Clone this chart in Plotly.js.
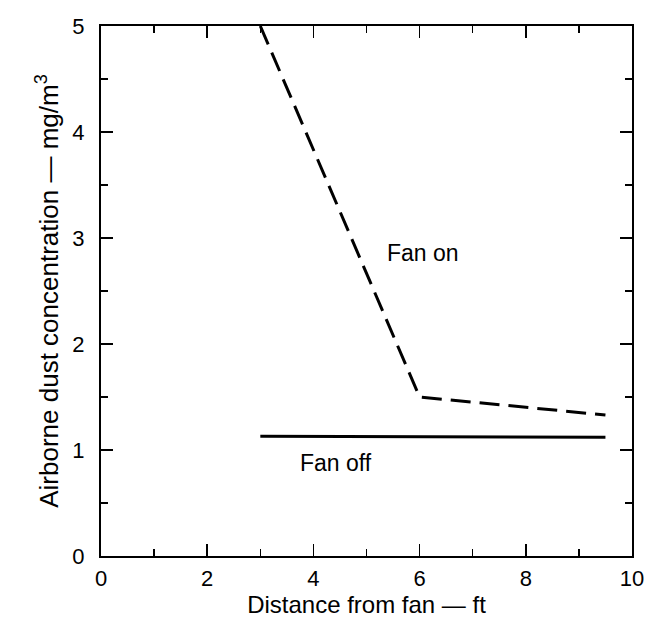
<!DOCTYPE html>
<html>
<head>
<meta charset="utf-8">
<script src="https://cdn.plot.ly/plotly-3.0.1.min.js"></script>
<style>html,body{margin:0;padding:0;background:#fff;}#chart{width:648px;height:624px;}</style>
</head>
<body>
<div id="chart"></div>
<script>
// Data
const fanOnX = [3.0, 6.0, 9.5];
const fanOnY = [5.0, 1.5, 1.33];
const fanOffX = [3.0, 9.5];
const fanOffY = [1.13, 1.12];
const xTickVals = [0, 2, 4, 6, 8, 10];
const yTickVals = [0, 1, 2, 3, 4, 5];
const labelFanOn = {x: 6.06, y: 2.86, text: 'Fan on'};
const labelFanOff = {x: 4.42, y: 0.88, text: 'Fan off'};

const font = 'Liberation Sans, Arial, Helvetica, sans-serif';

const traces = [
  {x: fanOnX, y: fanOnY, mode: 'lines', type: 'scatter',
   line: {color: '#000', width: 3, dash: '20px,9px'}, hoverinfo: 'skip', showlegend: false},
  {x: fanOffX, y: fanOffY, mode: 'lines', type: 'scatter',
   line: {color: '#000', width: 3}, hoverinfo: 'skip', showlegend: false}
];

const layout = {
  width: 648, height: 624,
  margin: {l: 101, r: 16, t: 26, b: 68},
  paper_bgcolor: '#fff', plot_bgcolor: '#fff',
  font: {family: font, color: '#000', size: 22},
  showlegend: false,
  xaxis: {
    range: [0, 10], tickvals: xTickVals, ticktext: xTickVals.map(String),
    ticks: 'inside', ticklen: 12, tickwidth: 1.5, tickcolor: '#000',
    minor: {dtick: 1, tick0: 0, ticks: 'inside', ticklen: 7, tickwidth: 1.5, tickcolor: '#000'},
    showline: true, linecolor: '#000', linewidth: 2, mirror: 'ticks',
    showgrid: false, zeroline: false,
    tickfont: {size: 22, family: font, color: '#000'},
    ticklabelstandoff: 2,
    title: {text: 'Distance from fan — ft', font: {size: 24, family: font, color: '#000'}, standoff: 2}
  },
  yaxis: {
    range: [0, 5], tickvals: yTickVals, ticktext: yTickVals.map(String),
    ticks: 'inside', ticklen: 12, tickwidth: 1.5, tickcolor: '#000',
    minor: {dtick: 0.5, tick0: 0, ticks: 'inside', ticklen: 7, tickwidth: 1.5, tickcolor: '#000'},
    showline: true, linecolor: '#000', linewidth: 2, mirror: 'ticks',
    showgrid: false, zeroline: false,
    tickfont: {size: 22, family: font, color: '#000'},
    ticklabelstandoff: 10,
    title: {text: 'Airborne dust concentration — mg/m<sup>3</sup>', font: {size: 26, family: font, color: '#000'}, standoff: 6}
  },
  annotations: [labelFanOn, labelFanOff].map(a => ({
    x: a.x, y: a.y, xref: 'x', yref: 'y', text: a.text, showarrow: false,
    font: {size: 23, family: font, color: '#000'}
  }))
};

Plotly.newPlot('chart', traces, layout, {staticPlot: true, displayModeBar: false});
</script>
</body>
</html>
